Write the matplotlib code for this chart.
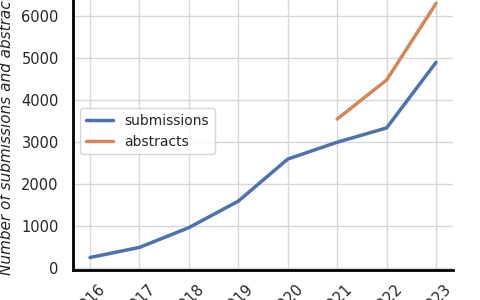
import numpy as np
import matplotlib
matplotlib.use("Agg")
import matplotlib.pyplot as plt
import seaborn as sns

# Data
years = [2016, 2017, 2018, 2019, 2020, 2021, 2022, 2023]
submissions = [260, 500, 970, 1600, 2600, 3000, 3340, 4900]
abstracts = [np.nan, np.nan, np.nan, np.nan, np.nan, 3550, 4480, 6300]

sns.set_theme(style="whitegrid", palette="deep")
plt.rcParams['font.family'] = ['DejaVu Sans']

fig = plt.figure(figsize=(4.8, 3.0), dpi=100)
# the original figure is cropped at the top, so the axes run past the edge
ax = fig.add_axes([0.1515, 0.0993, 0.793, 0.9317])

ax.plot(years, submissions, label='submissions', color='#4c72b0', lw=2.5)
ax.plot(years, abstracts, label='abstracts', color='#d5875a', lw=2.5)

ax.set_xticks(years)
ax.set_xticklabels([str(y) for y in years], rotation=45, fontsize=10.5)
ax.set_yticks([0, 1000, 2000, 3000, 4000, 5000, 6000])
ax.tick_params(axis='y', labelsize=10.5, pad=4)
ax.tick_params(axis='x', pad=2)
ax.set_ylabel('Number of submissions and abstracts', fontsize=11,
              fontstyle='italic', labelpad=5)

for s in ['left', 'bottom']:
    ax.spines[s].set_color('black')
    ax.spines[s].set_linewidth(2)
ax.spines['right'].set_visible(False)
ax.spines['top'].set_visible(False)
ax.grid(True, color='#d8d8d8', lw=1)

ax.legend(loc='upper left', bbox_to_anchor=(0.019, 0.58), borderaxespad=0,
          fontsize=10, frameon=True)

fig.savefig('out.png', dpi=100)
